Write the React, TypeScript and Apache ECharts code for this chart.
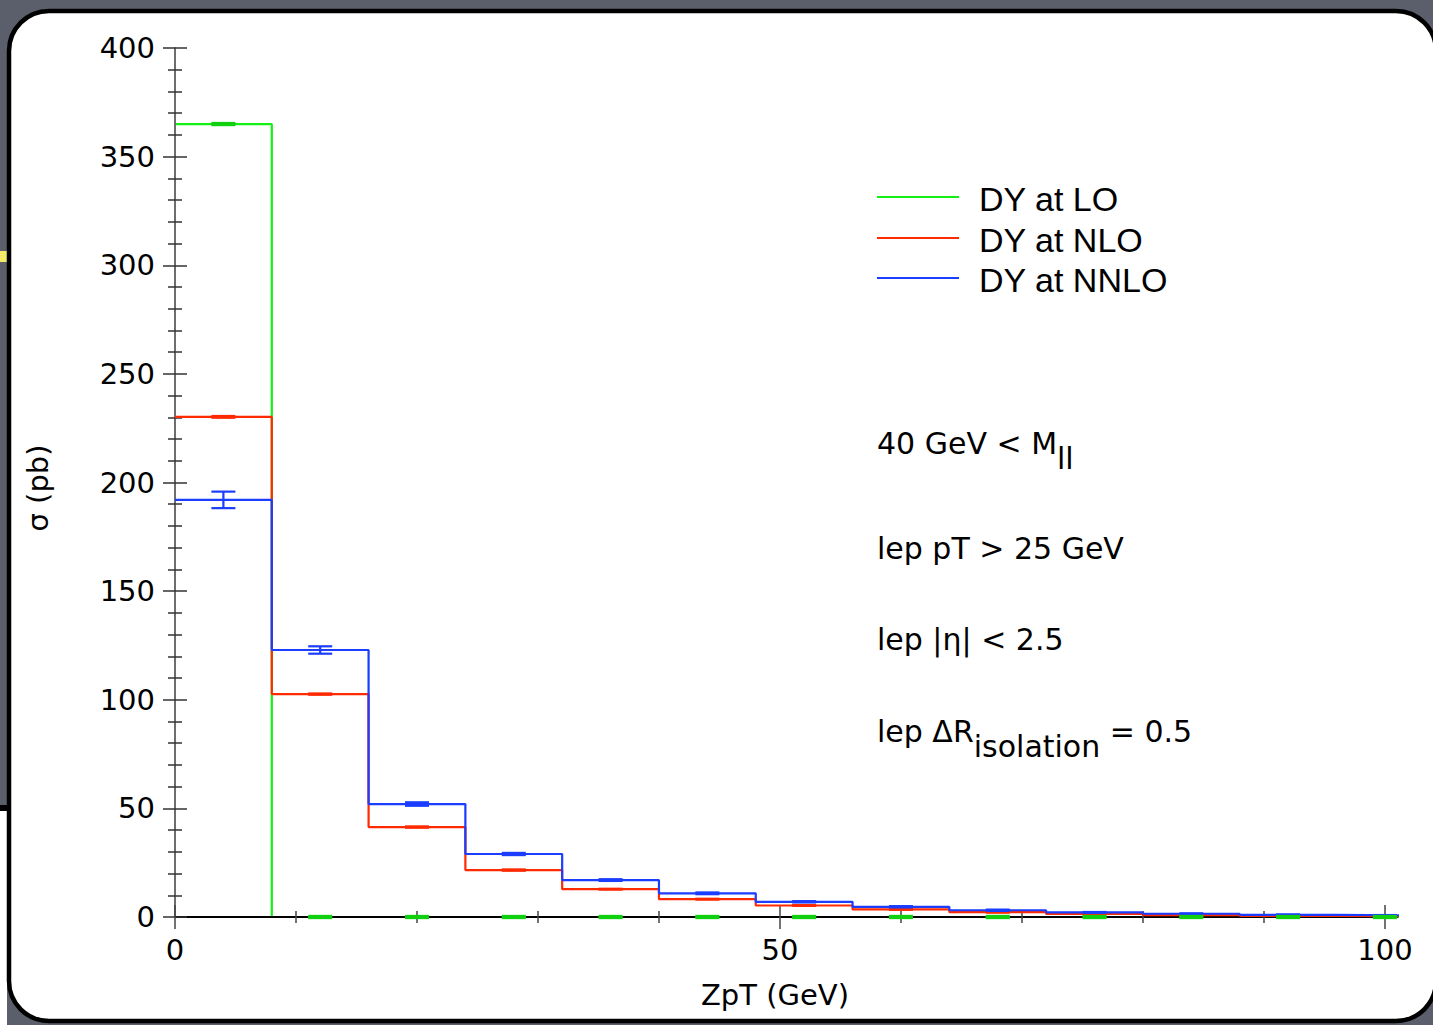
import React, { useEffect, useRef } from "react";
import * as echarts from "echarts";

// ---- data ----
const binEdges = [0, 8, 16, 24, 32, 40, 48, 56, 64, 72, 80, 88, 96, 104];
const loValues = [365, 0, 0, 0, 0, 0, 0, 0, 0, 0, 0, 0, 0];
const nloValues = [230.2, 102.6, 41.4, 21.6, 12.8, 8.2, 5.3, 3.5, 2.2, 1.4, 0.9, 0.5, 0.4];
const nnloValues = [192.0, 122.9, 52.0, 29.0, 17.0, 10.9, 7.0, 4.7, 3.1, 2.1, 1.5, 1.0, 0.7];
const loErrors = [0.3, 0.3, 0.3, 0.3, 0.3, 0.3, 0.3, 0.3, 0.3, 0.3, 0.3, 0.3, 0.3];
const nloErrors = [0.4, 0.3, 0.3, 0.3, 0.2, 0.2, 0.2, 0.2, 0.2, 0.2, 0.2, 0.2, 0.2];
const nnloErrors = [3.8, 1.7, 0.8, 0.5, 0.4, 0.4, 0.3, 0.3, 0.3, 0.2, 0.2, 0.2, 0.2];
const seriesNames = ["DY at LO", "DY at NLO", "DY at NNLO"];
const seriesColors = ["#14f014", "#ff2a00", "#1a3dff"];
const xMajorTicks = [0, 50, 100];
const xMinorTicks = [10, 20, 30, 40, 60, 70, 80, 90];
const cutLines = ["lep pT > 25 GeV", "lep |η| < 2.5"];

const FONT = "DejaVu Sans";

function stepData(values: number[]) {
  const pts = values.map((v, i) => [binEdges[i], v]);
  pts.push([binEdges[binEdges.length - 1], values[values.length - 1]]);
  return pts;
}

function errData(values: number[], errs: number[]) {
  return values.map((v, i) => [(binEdges[i] + binEdges[i + 1]) / 2, v, errs[i]]);
}

function errSeries(values: number[], errs: number[], color: string, z: number, lw: number, clip: boolean) {
  return {
    type: "custom",
    xAxisIndex: 0,
    yAxisIndex: 0,
    z,
    clip,
    silent: true,
    data: errData(values, errs),
    renderItem: (params: any, api: any) => {
      const x = api.value(0);
      const y = api.value(1);
      const e = api.value(2);
      const top = api.coord([x, y + e]);
      const bot = api.coord([x, y - e]);
      const hw = 12;
      const st = { stroke: color, lineWidth: lw };
      return {
        type: "group",
        children: [
          { type: "line", shape: { x1: top[0], y1: top[1], x2: bot[0], y2: bot[1] }, style: st },
          { type: "line", shape: { x1: top[0] - hw, y1: top[1], x2: top[0] + hw, y2: top[1] }, style: st },
          { type: "line", shape: { x1: bot[0] - hw, y1: bot[1], x2: bot[0] + hw, y2: bot[1] }, style: st },
        ],
      };
    },
  };
}

function xAxisDef(ticks: number[], inside: boolean, len: number, showLine: boolean, showLabel: boolean) {
  return {
    type: "value",
    min: 0,
    max: 101,
    position: "bottom",
    z: 1.5,
    splitLine: { show: false },
    axisLine: { show: showLine, onZero: false, lineStyle: { color: "#000", width: 2 } },
    axisTick: {
      show: true,
      inside,
      length: len,
      customValues: ticks,
      lineStyle: { color: "#444", width: 1.5 },
    },
    axisLabel: {
      show: showLabel,
      customValues: ticks,
      margin: 18,
      color: "#000",
      fontFamily: FONT,
      fontSize: 29,
    },
  };
}

function yAxisDef(inside: boolean, showLine: boolean, showLabel: boolean) {
  return {
    type: "value",
    min: 0,
    max: 400,
    interval: 50,
    position: "left",
    z: 1.5,
    splitLine: { show: false },
    axisLine: { show: showLine, lineStyle: { color: "#6e6e6e", width: 2 } },
    axisTick: { show: true, inside, length: 12, lineStyle: { color: "#333", width: 1.5 } },
    minorTick: { show: true, splitNumber: 5, length: 7, lineStyle: { color: "#333", width: 1.5 } },
    axisLabel: {
      show: showLabel,
      margin: 20,
      color: "#000",
      fontFamily: FONT,
      fontSize: 29,
    },
  };
}

export default function App() {
  const ref = useRef<HTMLDivElement>(null);

  useEffect(() => {
    if (!ref.current) return;
    const chart = echarts.init(ref.current, null, { renderer: "svg" });

    const legendY = [197, 238, 278];
    const legendGraphics: any[] = [];
    seriesNames.forEach((name, i) => {
      legendGraphics.push({
        type: "line",
        z: 100,
        shape: { x1: 877, y1: legendY[i], x2: 959, y2: legendY[i] },
        style: { stroke: seriesColors[i], lineWidth: 2.2 },
      });
      legendGraphics.push({
        type: "text",
        z: 100,
        x: 979,
        y: legendY[i] + 2,
        style: {
          text: name,
          fontFamily: "Liberation Sans",
          fontSize: 34,
          fill: "#000",
          textVerticalAlign: "middle",
        },
      });
    });

    const subRich = {
      n: { fontFamily: FONT, fontSize: 30, lineHeight: 30, verticalAlign: "top", fill: "#000" },
      s: { fontFamily: FONT, fontSize: 30, lineHeight: 61, verticalAlign: "middle", fill: "#000" },
    };

    const lineW = 2.2;
    const option: any = {
      animation: false,
      backgroundColor: "transparent",
      grid: { left: 175, right: 36, top: 48, bottom: 108, containLabel: false, outerBoundsMode: "none" },
      xAxis: [
        xAxisDef(xMajorTicks, true, 12, true, true),
        xAxisDef(xMajorTicks, false, 12, false, false),
        xAxisDef(xMinorTicks, true, 6, false, false),
        xAxisDef(xMinorTicks, false, 6, false, false),
      ],
      yAxis: [yAxisDef(true, true, true), yAxisDef(false, false, false)],
      series: [
        {
          name: seriesNames[0],
          type: "line",
          step: "end",
          z: 1,
          symbol: "none",
          clip: true,
          data: stepData(loValues),
          lineStyle: { color: seriesColors[0], width: lineW },
        },
        {
          name: seriesNames[1],
          type: "line",
          step: "end",
          z: 2,
          symbol: "none",
          clip: true,
          data: stepData(nloValues),
          lineStyle: { color: seriesColors[1], width: lineW },
        },
        {
          name: seriesNames[2],
          type: "line",
          step: "end",
          z: 3,
          symbol: "none",
          clip: true,
          data: stepData(nnloValues),
          lineStyle: { color: seriesColors[2], width: lineW },
        },
        errSeries(loValues, loErrors, "#10d010", 6, 3, false),
        errSeries(nloValues, nloErrors, seriesColors[1], 4, lineW, true),
        errSeries(nnloValues, nnloErrors, seriesColors[2], 5, lineW, true),
      ],
      graphic: [
        { type: "rect", z: -100, shape: { x: 0, y: 0, width: 1433, height: 1025 }, style: { fill: "#5b5f6b" } },
        { type: "rect", z: -99, shape: { x: 0, y: 251, width: 7, height: 11 }, style: { fill: "#f2ec6a" } },
        { type: "rect", z: -99, shape: { x: 0, y: 805, width: 7, height: 6 }, style: { fill: "#000" } },
        { type: "rect", z: -99, shape: { x: 0, y: 811, width: 7, height: 214 }, style: { fill: "#fff" } },
        {
          type: "rect",
          z: -98,
          shape: { x: 9, y: 11, width: 1427, height: 1010, r: 40 },
          style: { fill: "#fff", stroke: "#000", lineWidth: 4.5 },
        },
        ...legendGraphics,
        {
          type: "text",
          z: 100,
          x: 877,
          y: 428,
          style: { text: "{n|40 GeV < M}{s|ll}", rich: subRich, textVerticalAlign: "top" },
        },
        ...cutLines.map((t, i) => ({
          type: "text",
          z: 100,
          x: 877,
          y: [548, 639][i],
          style: { text: t, fontFamily: FONT, fontSize: 30, fill: "#000", textVerticalAlign: "middle" },
        })),
        {
          type: "text",
          z: 100,
          x: 877,
          y: 716,
          style: { text: "{n|lep ΔR}{s|isolation}{n| = 0.5}", rich: subRich, textVerticalAlign: "top" },
        },
        {
          type: "text",
          z: 100,
          x: 38,
          y: 488,
          rotation: Math.PI / 2,
          style: {
            text: "σ (pb)",
            fontFamily: FONT,
            fontSize: 29,
            fill: "#000",
            textAlign: "center",
            textVerticalAlign: "middle",
          },
        },
        {
          type: "text",
          z: 100,
          x: 775,
          y: 995,
          style: {
            text: "ZpT (GeV)",
            fontFamily: FONT,
            fontSize: 29,
            fill: "#000",
            textAlign: "center",
            textVerticalAlign: "middle",
          },
        },
      ],
    };

    chart.setOption(option);
    return () => chart.dispose();
  }, []);

  return (
    <div
      ref={ref}
      style={{ position: "absolute", left: 0, top: 0, width: 1433, height: 1025 }}
    />
  );
}
